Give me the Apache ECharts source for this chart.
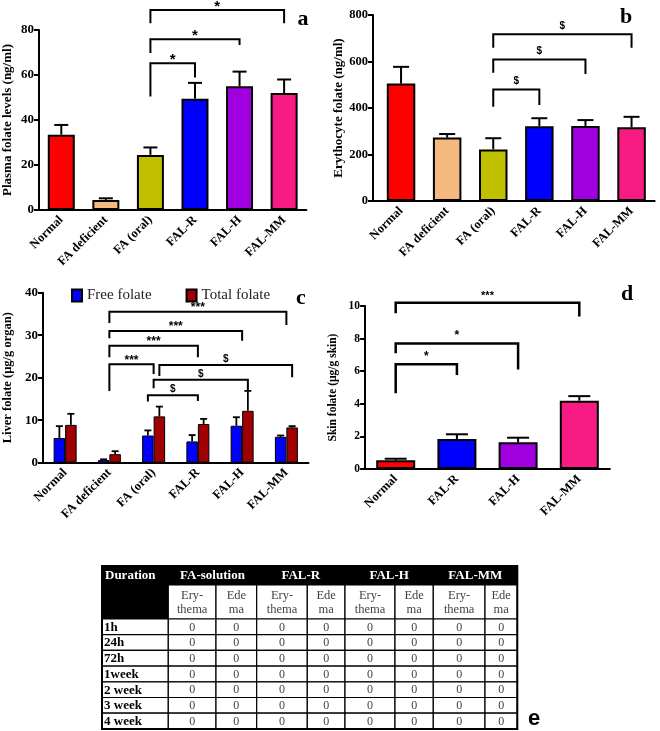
<!DOCTYPE html>
<html><head><meta charset="utf-8">
<script src="https://cdn.jsdelivr.net/npm/echarts@6/dist/echarts.min.js"></script>
<style>html,body{margin:0;padding:0;background:#fff}#c{width:660px;height:731px}</style>
</head><body><div id="c"></div><script>
// ---------- data ----------
const catsSix = ['Normal', 'FA deficient', 'FA (oral)', 'FAL-R', 'FAL-H', 'FAL-MM'];
const catsSkin = ['Normal', 'FAL-R', 'FAL-H', 'FAL-MM'];
const plasmaMean = [33.5, 4.5, 24.5, 49.5, 55.0, 52.0];
const plasmaSem = [4.3, 0.7, 3.3, 7.0, 6.5, 6.0];
const eryMean = [505, 273, 222, 322, 323, 317];
const erySem = [72, 15, 48, 34, 25, 45];
const liverFreeMean = [5.8, 0.6, 6.4, 5.0, 8.7, 6.1];
const liverFreeSem = [2.8, 0.2, 1.2, 1.5, 2.0, 0.3];
const liverTotalMean = [8.9, 2.0, 10.9, 9.1, 12.2, 8.3];
const liverTotalSem = [2.6, 0.7, 2.3, 1.2, 4.7, 0.3];
const skinMean = [0.53, 1.84, 1.64, 4.19];
const skinSem = [0.10, 0.29, 0.28, 0.28];
const liverSeriesNames = ['Free folate', 'Total folate'];
// significance brackets: [fromCat, fromBar, toCat, toBar, top, leftLegEnd, rightLegEnd, mark]
const sigPlasma = [
  [2, 'G', 3, 'G', 65.2, 50.4, 58.9, '*'],
  [2, 'G', 4, 'G', 75.9, 69.8, 73.3, '*'],
  [2, 'G', 5, 'G', 88.9, 83.0, 83.0, '*']
];
const sigEry = [
  [2, 'G', 3, 'G', 480, 405, 413, '$'],
  [2, 'G', 4, 'G', 609, 552, 546, '$'],
  [2, 'G', 5, 'G', 717, 659, 659, '$']
];
const sigLiver = [
  [1, 'G', 2, 'G', 23.15, 16.9, 20.9, '***'],
  [1, 'G', 3, 'G', 27.5, 24.8, 24.8, '***'],
  [1, 'G', 4, 'G', 31.0, 29.3, 28.7, '***'],
  [1, 'G', 5, 'G', 35.5, 32.9, 32.4, '***'],
  [2, 'F', 3, 'G', 15.9, 14.4, 14.5, '$'],
  [2, 'G', 4, 'T', 19.5, 17.5, 17.1, '$'],
  [2, 'T', 5, 'T', 23.0, 20.4, 20.1, '$']
];
const sigSkin = [
  [0, 'G', 3, 'G', 10.2, 9.55, 9.35, '***'],
  [0, 'G', 2, 'G', 7.7, 7.1, 6.1, '*'],
  [0, 'G', 1, 'G', 6.42, 4.64, 5.77, '*']
];
// axis ranges [min, max, interval]
const rangePlasma = [0, 80, 20];
const rangeEry = [0, 800, 200];
const rangeLiver = [0, 40, 10];
const rangeSkin = [0, 10, 2];
// table e
const tableGroups = ['FA-solution', 'FAL-R', 'FAL-H', 'FAL-MM'];
const tableSubCols = ['Ery-\nthema', 'Ede\nma'];
const tableDurations = ['1h', '24h', '72h', '1week', '2 week', '3 week', '4 week'];
const tableScores = [
  [0, 0, 0, 0, 0, 0, 0, 0],
  [0, 0, 0, 0, 0, 0, 0, 0],
  [0, 0, 0, 0, 0, 0, 0, 0],
  [0, 0, 0, 0, 0, 0, 0, 0],
  [0, 0, 0, 0, 0, 0, 0, 0],
  [0, 0, 0, 0, 0, 0, 0, 0],
  [0, 0, 0, 0, 0, 0, 0, 0]
];

// ---------- styles ----------
const SERIF = '"Liberation Serif", "Times New Roman", serif';
const SANS = '"Liberation Sans", Arial, sans-serif';
const colSix = ['#FF0000', '#F5B87F', '#C0C000', '#0000FF', '#A000E0', '#F81B84'];
const colSkin = ['#FF0000', '#0000FF', '#A000E0', '#F81B84'];
const colLiver = ['#0000FF', '#A00000'];

const chart = echarts.init(document.getElementById('c'), null, {renderer: 'canvas'});

function xAxisCfg(grid, cats, fs) {
  return {
    type: 'category', gridIndex: grid, data: cats,
    axisLine: {lineStyle: {color: '#000', width: 2}},
    axisTick: {alignWithLabel: true, length: 5, lineStyle: {color: '#000', width: 2}},
    axisLabel: {rotate: 45, margin: 8, color: '#000', fontFamily: SERIF, fontWeight: 'bold', fontSize: fs, interval: 0},
    splitLine: {show: false}
  };
}
function yAxisCfg(grid, range, name, nameGap, fs, nfs, offset) {
  return {
    type: 'value', gridIndex: grid, min: range[0], max: range[1], interval: range[2],
    offset: offset || 0,
    name: name, nameLocation: 'middle', nameGap: nameGap,
    nameTextStyle: {color: '#000', fontFamily: SERIF, fontWeight: 'bold', fontSize: nfs},
    axisLine: {show: true, lineStyle: {color: '#000', width: 2}},
    axisTick: {show: true, length: 5, lineStyle: {color: '#000', width: 2}},
    axisLabel: {color: '#000', fontFamily: SERIF, fontWeight: 'bold', fontSize: fs, margin: 5},
    splitLine: {show: false}
  };
}
function barSeries(grid, vals, cols, w, bw) {
  return {
    type: 'bar', xAxisIndex: grid, yAxisIndex: grid, barWidth: w,
    data: vals.map((v, i) => ({value: v, itemStyle: {color: cols[i]}})),
    itemStyle: {borderColor: '#000', borderWidth: bw}, z: 2, silent: true
  };
}
function errSeries(grid, mean, sem, dx, cap, lw) {
  return {
    type: 'custom', xAxisIndex: grid, yAxisIndex: grid, clip: false, z: 3, silent: true,
    data: mean.map((m, i) => [i, m + sem[i]]),
    renderItem: function (params, api) {
      const i = params.dataIndex;
      const p0 = api.coord([i, mean[i]]);
      const p1 = api.coord([i, mean[i] + sem[i]]);
      const x = p0[0] + dx;
      return {type: 'group', children: [
        {type: 'line', shape: {x1: x, y1: p0[1], x2: x, y2: p1[1]}, style: {stroke: '#000', lineWidth: lw}},
        {type: 'line', shape: {x1: x - cap / 2, y1: p1[1], x2: x + cap / 2, y2: p1[1]}, style: {stroke: '#000', lineWidth: lw}}
      ]};
    }
  };
}
function sigSeries(grid, sig, barW, lw, fonts, dys) {
  return {
    type: 'custom', xAxisIndex: grid, yAxisIndex: grid, clip: false, z: 4, silent: true,
    data: sig.map(s => [s[0], s[4]]),
    renderItem: function (params, api) {
      const s = sig[params.dataIndex];
      const off = k => k === 'F' ? -barW / 2 : (k === 'T' ? barW / 2 : 0);
      const xL = api.coord([s[0], s[4]])[0] + off(s[1]);
      const xR = api.coord([s[2], s[4]])[0] + off(s[3]);
      const yT = api.coord([s[0], s[4]])[1];
      const yL = api.coord([s[0], s[5]])[1];
      const yR = api.coord([s[0], s[6]])[1];
      const f = fonts[s[7]] || fonts['*'];
      const dy = dys[s[7]] || dys['*'];
      return {type: 'group', children: [
        {type: 'polyline', shape: {points: [[xL, yL], [xL, yT], [xR, yT], [xR, yR]]},
          style: {stroke: '#000', lineWidth: lw, fill: null}},
        {type: 'text', x: (xL + xR) / 2, y: yT - dy,
          style: {text: s[7], font: f, fill: '#000', align: 'center', verticalAlign: 'middle',
            textAlign: 'center', textVerticalAlign: 'middle'}}
      ]};
    }
  };
}
function joinSeries(grid, ext, lw) {
  // joins the x axis line to an offset y axis
  return {
    type: 'custom', xAxisIndex: grid, yAxisIndex: grid, clip: false, z: 5, silent: true,
    data: [[0, 0]],
    renderItem: function (params, api) {
      const p = api.coord([0, 0]);
      const bw = api.size([1, 0])[0];
      const x0 = p[0] - bw / 2;
      return {type: 'line', shape: {x1: x0 - ext, y1: p[1], x2: x0 + 1, y2: p[1]}, style: {stroke: '#000', lineWidth: lw}};
    }
  };
}

// ---------- table (panel e) ----------
const tX = 102, tY = 566;
const colW = [66.3, 47.7, 40.7, 50.6, 37.7, 50, 38.3, 51.7, 32.3];
const h1 = 19, h2 = 34, rH = 15.7;
const colX = [];
colW.reduce((acc, w, i) => { colX[i] = acc; return acc + w; }, tX);
const tW = colW.reduce((a, b) => a + b, 0);
const tH = h1 + h2 + rH * tableDurations.length;
const tableEls = [];
tableEls.push({type: 'rect', shape: {x: tX, y: tY, width: tW, height: h1}, style: {fill: '#000'}});
tableEls.push({type: 'rect', shape: {x: tX, y: tY + h1, width: colW[0], height: h2}, style: {fill: '#000'}});
tableEls.push({type: 'text', x: tX + 3, y: tY + h1 / 2, style: {text: 'Duration', fill: '#fff', font: 'bold 13px ' + SERIF, textAlign: 'left', textVerticalAlign: 'middle', align: 'left', verticalAlign: 'middle'}});
tableGroups.forEach((g, gi) => {
  const c = 1 + gi * 2;
  const cx = colX[c] + (colW[c] + colW[c + 1]) / 2;
  tableEls.push({type: 'text', x: cx, y: tY + h1 / 2, style: {text: g, fill: '#fff', font: 'bold 13px ' + SERIF, textAlign: 'center', textVerticalAlign: 'middle', align: 'center', verticalAlign: 'middle'}});
  tableSubCols.forEach((sc, si) => {
    const cc = c + si;
    tableEls.push({type: 'rect', shape: {x: colX[cc], y: tY + h1, width: colW[cc], height: h2}, style: {fill: '#fff', stroke: '#000', lineWidth: 1.2}});
    tableEls.push({type: 'text', x: colX[cc] + colW[cc] / 2, y: tY + h1 + h2 / 2 + 1, style: {text: sc, fill: '#444', font: '12.5px ' + SERIF, lineHeight: 14, textAlign: 'center', textVerticalAlign: 'middle', align: 'center', verticalAlign: 'middle'}});
  });
});
tableDurations.forEach((d, ri) => {
  const y = tY + h1 + h2 + ri * rH;
  tableEls.push({type: 'rect', shape: {x: tX, y: y, width: colW[0], height: rH}, style: {fill: '#fff', stroke: '#000', lineWidth: 1.2}});
  tableEls.push({type: 'text', x: tX + 2, y: y + rH / 2 + 0.5, style: {text: d, fill: '#000', font: 'bold 13px ' + SERIF, textAlign: 'left', textVerticalAlign: 'middle', align: 'left', verticalAlign: 'middle'}});
  tableScores[ri].forEach((v, ci) => {
    const c = ci + 1;
    tableEls.push({type: 'rect', shape: {x: colX[c], y: y, width: colW[c], height: rH}, style: {fill: '#fff', stroke: '#000', lineWidth: 1.2}});
    tableEls.push({type: 'text', x: colX[c] + colW[c] / 2, y: y + rH / 2 + 0.5, style: {text: String(v), fill: '#444', font: '12px ' + SERIF, textAlign: 'center', textVerticalAlign: 'middle', align: 'center', verticalAlign: 'middle'}});
  });
});
tableEls.push({type: 'rect', shape: {x: tX, y: tY, width: tW, height: tH}, style: {fill: null, stroke: '#000', lineWidth: 2}});

const panelLabel = (t, x, y, font) => ({type: 'text', x: x, y: y, style: {text: t, fill: '#000', font: font, textAlign: 'center', textVerticalAlign: 'middle', align: 'center', verticalAlign: 'middle'}});

const option = {
  backgroundColor: '#fff',
  animation: false,
  legend: {
    data: liverSeriesNames, left: 66, top: 283, itemWidth: 10, itemHeight: 12, itemGap: 34,
    icon: 'rect', textStyle: {fontFamily: SERIF, fontSize: 15, color: '#222'}, selectedMode: false
  },
  grid: [
    {left: 37.6, top: 30, width: 268.8, height: 180},
    {left: 378, top: 15, width: 276.6, height: 186},
    {left: 38.5, top: 292.7, width: 270, height: 170},
    {left: 365.1, top: 306, width: 244.8, height: 163}
  ],
  xAxis: [
    xAxisCfg(0, catsSix, 12.5),
    xAxisCfg(1, catsSix, 12.5),
    xAxisCfg(2, catsSix, 12.5),
    xAxisCfg(3, catsSkin, 12.5)
  ],
  yAxis: [
    yAxisCfg(0, rangePlasma, 'Plasma folate levels (ng/ml)', 25, 13, 13),
    yAxisCfg(1, rangeEry, 'Erythocyte folate (ng/ml)', 27, 12.5, 13, 5),
    yAxisCfg(2, rangeLiver, 'Liver folate (µg/g organ)', 29, 13, 12.5),
    yAxisCfg(3, rangeSkin, 'Skin folate (µg/g skin)', 26, 11.5, 11.5)
  ],
  series: [
    barSeries(0, plasmaMean, colSix, 27, 2),
    errSeries(0, plasmaMean, plasmaSem, 0, 14, 2),
    sigSeries(0, sigPlasma, 0, 2, {'*': 'bold 15px ' + SANS}, {'*': 3}),

    barSeries(1, eryMean, colSix, 28.5, 2),
    errSeries(1, eryMean, erySem, 0, 16, 2),
    sigSeries(1, sigEry, 0, 2, {'$': 'bold 10px ' + SANS}, {'$': 8}),
    joinSeries(1, 5, 2),

    {name: liverSeriesNames[0], type: 'bar', xAxisIndex: 2, yAxisIndex: 2, barWidth: 11.5, barGap: '0%',
      data: liverFreeMean, itemStyle: {color: colLiver[0], borderColor: '#000', borderWidth: 1}, z: 2, silent: true},
    {name: liverSeriesNames[1], type: 'bar', xAxisIndex: 2, yAxisIndex: 2, barWidth: 11.5, barGap: '0%',
      data: liverTotalMean, itemStyle: {color: colLiver[1], borderColor: '#000', borderWidth: 1}, z: 2, silent: true},
    errSeries(2, liverFreeMean, liverFreeSem, -5.75, 7, 1.8),
    errSeries(2, liverTotalMean, liverTotalSem, 5.75, 7, 1.8),
    sigSeries(2, sigLiver, 11.5, 2, {'***': 'bold 12px ' + SANS, '$': 'bold 10px ' + SANS, '*': 'bold 12px ' + SANS}, {'***': 4, '$': 6, '*': 4}),

    barSeries(3, skinMean, colSkin, 39, 2),
    errSeries(3, skinMean, skinSem, 0, 22, 2),
    sigSeries(3, sigSkin, 0, 2.5, {'***': 'bold 11px ' + SANS, '*': 'bold 12px ' + SANS}, {'***': 7, '*': 8})
  ],
  graphic: [
    panelLabel('a', 303, 19, 'bold 22px ' + SERIF),
    panelLabel('b', 626, 17, 'bold 22px ' + SERIF),
    panelLabel('c', 301, 298, 'bold 22px ' + SERIF),
    panelLabel('d', 627, 294, 'bold 22px ' + SERIF),
    panelLabel('e', 534, 719, 'bold 22px ' + SANS),
    {type: 'group', children: tableEls}
  ]
};
chart.setOption(option);
</script></body></html>
